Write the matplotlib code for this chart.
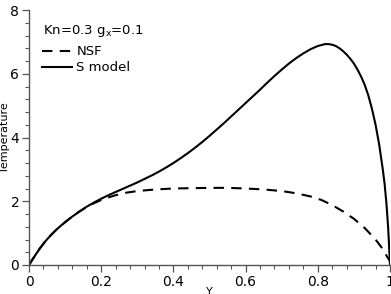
import matplotlib
matplotlib.use('Agg')
import matplotlib.pyplot as plt
from matplotlib.ticker import MultipleLocator

# S model curve
y_s = [0, 0.01, 0.02, 0.03, 0.045, 0.06, 0.075, 0.09, 0.105, 0.12, 0.14, 0.16,
       0.18, 0.20, 0.22, 0.24, 0.26, 0.28, 0.30, 0.32, 0.34, 0.36, 0.38, 0.40,
       0.42, 0.44, 0.46, 0.48, 0.50, 0.52, 0.54, 0.56, 0.58, 0.60, 0.62, 0.64,
       0.66, 0.68, 0.70, 0.72, 0.74, 0.76, 0.78, 0.80, 0.82, 0.83, 0.84, 0.85,
       0.86, 0.87, 0.88, 0.89, 0.90, 0.91, 0.92, 0.93, 0.94, 0.95, 0.96, 0.97,
       0.98, 0.985, 0.99, 0.995, 1.0]
t_s = [0, 0.18, 0.35, 0.52, 0.74, 0.93, 1.10, 1.25, 1.39, 1.52, 1.68, 1.83,
       1.96, 2.08, 2.19, 2.29, 2.39, 2.49, 2.59, 2.70, 2.81, 2.93, 3.06, 3.20,
       3.35, 3.51, 3.68, 3.86, 4.05, 4.25, 4.45, 4.66, 4.87, 5.08, 5.29, 5.50,
       5.72, 5.93, 6.13, 6.32, 6.49, 6.64, 6.77, 6.87, 6.93, 6.93, 6.91, 6.87,
       6.80, 6.71, 6.60, 6.47, 6.32, 6.13, 5.91, 5.65, 5.32, 4.90, 4.40, 3.78,
       3.00, 2.55, 1.95, 1.15, 0.0]

# NSF curve
y_nsf = [0, 0.01, 0.02, 0.03, 0.045, 0.06, 0.075, 0.09, 0.105, 0.12, 0.14,
         0.16, 0.18, 0.20, 0.22, 0.24, 0.27, 0.30, 0.35, 0.40, 0.45, 0.50,
         0.55, 0.60, 0.65, 0.70, 0.74, 0.78, 0.81, 0.84, 0.87, 0.90, 0.93,
         0.96, 0.98, 0.99, 1.0]
t_nsf = [0, 0.18, 0.35, 0.52, 0.74, 0.93, 1.10, 1.25, 1.39, 1.52, 1.68,
         1.82, 1.94, 2.04, 2.12, 2.19, 2.27, 2.32, 2.37, 2.40, 2.41, 2.42,
         2.42, 2.40, 2.37, 2.32, 2.25, 2.15, 2.04, 1.88, 1.68, 1.45, 1.16,
         0.80, 0.50, 0.30, 0.12]

fig = plt.figure(figsize=(3.91, 2.94), dpi=100)
ax = fig.add_axes([29/391, 1-265/294, 361/391, 255/294])

ax.plot(y_nsf, t_nsf, color='black', lw=1.5, ls=(0, (5, 3.5)), label='NSF')
ax.plot(y_s, t_s, color='black', lw=1.5, label='S model')

ax.set_xlim(0, 1)
ax.set_ylim(0, 8)
ax.xaxis.set_minor_locator(MultipleLocator(0.04))
ax.yaxis.set_major_locator(MultipleLocator(2))
ax.yaxis.set_minor_locator(MultipleLocator(0.4))
ax.set_xticks([0, 0.2, 0.4, 0.6, 0.8, 1.0])
ax.set_xticklabels(['0', '0.2', '0.4', '0.6', '0.8', '1'])

for s in ['top', 'right']:
    ax.spines[s].set_visible(False)
for s in ['left', 'bottom']:
    ax.spines[s].set_color('#555555')
    ax.spines[s].set_linewidth(1.0)

ax.tick_params(which='major', direction='out', length=5, width=0.9,
               color='#555555', labelsize=10, pad=2)
ax.tick_params(which='minor', direction='out', length=3, width=0.8,
               color='#555555')

ax.set_xlabel('Y', fontsize=8)
ax.set_ylabel('Temperature', fontsize=8)
ax.xaxis.set_label_coords(0.5, -0.085)
ax.yaxis.set_label_coords(-0.052, 0.5)

ax.text(0.039, 0.905, r'Kn=0.3 g$_{\rm x}$=0.1', transform=ax.transAxes,
        fontsize=9.5, ha='left', va='baseline')
ax.legend(loc='upper left', bbox_to_anchor=(0.036, 0.862), frameon=False,
          borderpad=0, borderaxespad=0, fontsize=9.5, handlelength=2.3,
          handletextpad=0.3, labelspacing=0.25)

fig.savefig('out.png', dpi=100)
